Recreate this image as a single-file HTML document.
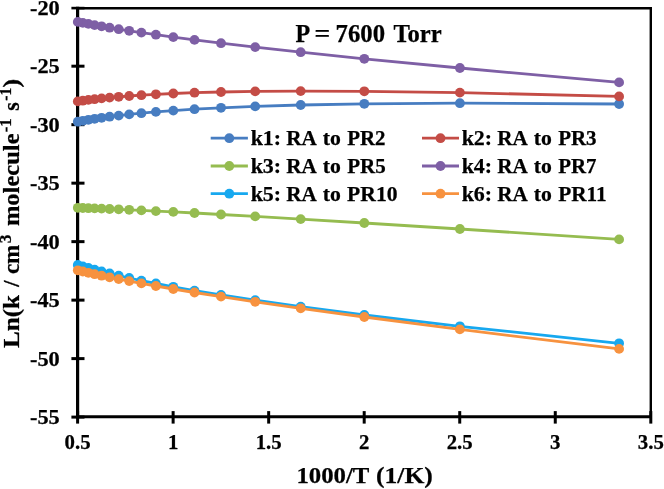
<!DOCTYPE html>
<html><head><meta charset="utf-8"><title>chart</title>
<style>html,body{margin:0;padding:0;background:#fff;}svg{display:block;will-change:transform;}</style></head>
<body>
<svg width="664" height="489" viewBox="0 0 664 489">
<rect width="664" height="489" fill="#fff"/>
<g stroke="#000" fill="none">
<line x1="77.6" y1="6.7" x2="77.6" y2="418.6" stroke-width="3.2"/>
<line x1="76.1" y1="416.8" x2="652.0" y2="416.8" stroke-width="3"/>
<line x1="77.6" y1="8.2" x2="652.0" y2="8.2" stroke-width="2.5"/>
<line x1="650.8" y1="7.7" x2="650.8" y2="417.1" stroke-width="2.4"/>
<line x1="71.39999999999999" y1="8.10" x2="84.5" y2="8.10" stroke-width="2.6"/>
<line x1="71.39999999999999" y1="66.19" x2="84.5" y2="66.19" stroke-width="3.0"/>
<line x1="71.39999999999999" y1="124.67" x2="84.5" y2="124.67" stroke-width="3.0"/>
<line x1="71.39999999999999" y1="183.16" x2="84.5" y2="183.16" stroke-width="3.0"/>
<line x1="71.39999999999999" y1="241.64" x2="84.5" y2="241.64" stroke-width="3.0"/>
<line x1="71.39999999999999" y1="300.13" x2="84.5" y2="300.13" stroke-width="3.0"/>
<line x1="71.39999999999999" y1="358.61" x2="84.5" y2="358.61" stroke-width="3.0"/>
<line x1="71.39999999999999" y1="417.10" x2="84.5" y2="417.10" stroke-width="3.0"/>
<line x1="77.60" y1="411.1" x2="77.60" y2="423.6" stroke-width="3"/>
<line x1="173.13" y1="411.1" x2="173.13" y2="423.6" stroke-width="3"/>
<line x1="268.67" y1="411.1" x2="268.67" y2="423.6" stroke-width="3"/>
<line x1="364.20" y1="411.1" x2="364.20" y2="423.6" stroke-width="3"/>
<line x1="459.73" y1="411.1" x2="459.73" y2="423.6" stroke-width="3"/>
<line x1="555.27" y1="411.1" x2="555.27" y2="423.6" stroke-width="3"/>
<line x1="650.80" y1="411.1" x2="650.80" y2="423.6" stroke-width="3"/>
</g>
<g fill="#477DC1" stroke="none"><polyline points="619.1,104.0 459.9,103.2 364.3,103.8 300.7,105.0 255.2,106.4 221.0,107.8 194.5,109.2 173.3,110.6 155.9,111.9 141.4,113.2 129.2,114.4 118.7,115.6 109.6,116.7 101.6,117.8 94.6,118.8 88.4,119.8 82.8,120.8 77.8,121.7" fill="none" stroke="#477DC1" stroke-width="2.8" stroke-linejoin="round" stroke-linecap="round"/>
<circle cx="619.1" cy="104.0" r="4.9"/><circle cx="459.9" cy="103.2" r="4.9"/><circle cx="364.3" cy="103.8" r="4.9"/><circle cx="300.7" cy="105.0" r="4.9"/><circle cx="255.2" cy="106.4" r="4.9"/><circle cx="221.0" cy="107.8" r="4.9"/><circle cx="194.5" cy="109.2" r="4.9"/><circle cx="173.3" cy="110.6" r="4.9"/><circle cx="155.9" cy="111.9" r="4.9"/><circle cx="141.4" cy="113.2" r="4.9"/><circle cx="129.2" cy="114.4" r="4.9"/><circle cx="118.7" cy="115.6" r="4.9"/><circle cx="109.6" cy="116.7" r="4.9"/><circle cx="101.6" cy="117.8" r="4.9"/><circle cx="94.6" cy="118.8" r="4.9"/><circle cx="88.4" cy="119.8" r="4.9"/><circle cx="82.8" cy="120.8" r="4.9"/><circle cx="77.8" cy="121.7" r="4.9"/></g>
<g fill="#C44C46" stroke="none"><polyline points="619.1,96.4 459.9,92.6 364.3,91.3 300.7,91.1 255.2,91.4 221.0,92.0 194.5,92.7 173.3,93.5 155.9,94.3 141.4,95.2 129.2,96.0 118.7,96.8 109.6,97.6 101.6,98.4 94.6,99.2 88.4,99.9 82.8,100.7 77.8,101.4" fill="none" stroke="#C44C46" stroke-width="2.8" stroke-linejoin="round" stroke-linecap="round"/>
<circle cx="619.1" cy="96.4" r="4.9"/><circle cx="459.9" cy="92.6" r="4.9"/><circle cx="364.3" cy="91.3" r="4.9"/><circle cx="300.7" cy="91.1" r="4.9"/><circle cx="255.2" cy="91.4" r="4.9"/><circle cx="221.0" cy="92.0" r="4.9"/><circle cx="194.5" cy="92.7" r="4.9"/><circle cx="173.3" cy="93.5" r="4.9"/><circle cx="155.9" cy="94.3" r="4.9"/><circle cx="141.4" cy="95.2" r="4.9"/><circle cx="129.2" cy="96.0" r="4.9"/><circle cx="118.7" cy="96.8" r="4.9"/><circle cx="109.6" cy="97.6" r="4.9"/><circle cx="101.6" cy="98.4" r="4.9"/><circle cx="94.6" cy="99.2" r="4.9"/><circle cx="88.4" cy="99.9" r="4.9"/><circle cx="82.8" cy="100.7" r="4.9"/><circle cx="77.8" cy="101.4" r="4.9"/></g>
<g fill="#95BC50" stroke="none"><polyline points="619.1,239.4 459.9,229.0 364.3,223.0 300.7,219.1 255.2,216.4 221.0,214.5 194.5,213.0 173.3,211.9 155.9,211.1 141.4,210.4 129.2,209.8 118.7,209.3 109.6,209.0 101.6,208.6 94.6,208.4 88.4,208.2 82.8,208.0 77.8,207.8" fill="none" stroke="#95BC50" stroke-width="2.8" stroke-linejoin="round" stroke-linecap="round"/>
<circle cx="619.1" cy="239.4" r="4.9"/><circle cx="459.9" cy="229.0" r="4.9"/><circle cx="364.3" cy="223.0" r="4.9"/><circle cx="300.7" cy="219.1" r="4.9"/><circle cx="255.2" cy="216.4" r="4.9"/><circle cx="221.0" cy="214.5" r="4.9"/><circle cx="194.5" cy="213.0" r="4.9"/><circle cx="173.3" cy="211.9" r="4.9"/><circle cx="155.9" cy="211.1" r="4.9"/><circle cx="141.4" cy="210.4" r="4.9"/><circle cx="129.2" cy="209.8" r="4.9"/><circle cx="118.7" cy="209.3" r="4.9"/><circle cx="109.6" cy="209.0" r="4.9"/><circle cx="101.6" cy="208.6" r="4.9"/><circle cx="94.6" cy="208.4" r="4.9"/><circle cx="88.4" cy="208.2" r="4.9"/><circle cx="82.8" cy="208.0" r="4.9"/><circle cx="77.8" cy="207.8" r="4.9"/></g>
<g fill="#7E5FA5" stroke="none"><polyline points="619.1,82.4 459.9,68.0 364.3,58.8 300.7,52.2 255.2,47.1 221.0,43.2 194.5,39.9 173.3,37.1 155.9,34.7 141.4,32.6 129.2,30.8 118.7,29.2 109.6,27.7 101.6,26.3 94.6,25.1 88.4,23.9 82.8,22.9 77.8,21.9" fill="none" stroke="#7E5FA5" stroke-width="2.8" stroke-linejoin="round" stroke-linecap="round"/>
<circle cx="619.1" cy="82.4" r="4.9"/><circle cx="459.9" cy="68.0" r="4.9"/><circle cx="364.3" cy="58.8" r="4.9"/><circle cx="300.7" cy="52.2" r="4.9"/><circle cx="255.2" cy="47.1" r="4.9"/><circle cx="221.0" cy="43.2" r="4.9"/><circle cx="194.5" cy="39.9" r="4.9"/><circle cx="173.3" cy="37.1" r="4.9"/><circle cx="155.9" cy="34.7" r="4.9"/><circle cx="141.4" cy="32.6" r="4.9"/><circle cx="129.2" cy="30.8" r="4.9"/><circle cx="118.7" cy="29.2" r="4.9"/><circle cx="109.6" cy="27.7" r="4.9"/><circle cx="101.6" cy="26.3" r="4.9"/><circle cx="94.6" cy="25.1" r="4.9"/><circle cx="88.4" cy="23.9" r="4.9"/><circle cx="82.8" cy="22.9" r="4.9"/><circle cx="77.8" cy="21.9" r="4.9"/></g>
<g fill="#17A8EF" stroke="none"><polyline points="619.1,343.3 459.9,326.3 364.3,315.0 300.7,306.7 255.2,300.2 221.0,295.0 194.5,290.6 173.3,286.8 155.9,283.5 141.4,280.6 129.2,278.0 118.7,275.7 109.6,273.5 101.6,271.5 94.6,269.7 88.4,268.0 82.8,266.4 77.8,265.0" fill="none" stroke="#17A8EF" stroke-width="2.8" stroke-linejoin="round" stroke-linecap="round"/>
<circle cx="619.1" cy="343.3" r="4.9"/><circle cx="459.9" cy="326.3" r="4.9"/><circle cx="364.3" cy="315.0" r="4.9"/><circle cx="300.7" cy="306.7" r="4.9"/><circle cx="255.2" cy="300.2" r="4.9"/><circle cx="221.0" cy="295.0" r="4.9"/><circle cx="194.5" cy="290.6" r="4.9"/><circle cx="173.3" cy="286.8" r="4.9"/><circle cx="155.9" cy="283.5" r="4.9"/><circle cx="141.4" cy="280.6" r="4.9"/><circle cx="129.2" cy="278.0" r="4.9"/><circle cx="118.7" cy="275.7" r="4.9"/><circle cx="109.6" cy="273.5" r="4.9"/><circle cx="101.6" cy="271.5" r="4.9"/><circle cx="94.6" cy="269.7" r="4.9"/><circle cx="88.4" cy="268.0" r="4.9"/><circle cx="82.8" cy="266.4" r="4.9"/><circle cx="77.8" cy="265.0" r="4.9"/></g>
<g fill="#F7923F" stroke="none"><polyline points="619.1,348.9 459.9,329.4 364.3,317.0 300.7,308.3 255.2,301.8 221.0,296.6 194.5,292.5 173.3,289.0 155.9,286.0 141.4,283.4 129.2,281.1 118.7,279.1 109.6,277.3 101.6,275.7 94.6,274.2 88.4,272.8 82.8,271.5 77.8,270.3" fill="none" stroke="#F7923F" stroke-width="2.8" stroke-linejoin="round" stroke-linecap="round"/>
<circle cx="619.1" cy="348.9" r="4.9"/><circle cx="459.9" cy="329.4" r="4.9"/><circle cx="364.3" cy="317.0" r="4.9"/><circle cx="300.7" cy="308.3" r="4.9"/><circle cx="255.2" cy="301.8" r="4.9"/><circle cx="221.0" cy="296.6" r="4.9"/><circle cx="194.5" cy="292.5" r="4.9"/><circle cx="173.3" cy="289.0" r="4.9"/><circle cx="155.9" cy="286.0" r="4.9"/><circle cx="141.4" cy="283.4" r="4.9"/><circle cx="129.2" cy="281.1" r="4.9"/><circle cx="118.7" cy="279.1" r="4.9"/><circle cx="109.6" cy="277.3" r="4.9"/><circle cx="101.6" cy="275.7" r="4.9"/><circle cx="94.6" cy="274.2" r="4.9"/><circle cx="88.4" cy="272.8" r="4.9"/><circle cx="82.8" cy="271.5" r="4.9"/><circle cx="77.8" cy="270.3" r="4.9"/></g>
<g font-family="'Liberation Serif', serif" font-weight="bold" fill="#000" stroke="#000" stroke-width="0.25">
<text x="29.98" y="14.9" font-size="21.33" textLength="29.77" lengthAdjust="spacingAndGlyphs">-20</text>
<text x="29.98" y="73.4" font-size="21.33" textLength="29.73" lengthAdjust="spacingAndGlyphs">-25</text>
<text x="29.98" y="131.9" font-size="21.33" textLength="29.77" lengthAdjust="spacingAndGlyphs">-30</text>
<text x="29.98" y="190.4" font-size="21.33" textLength="29.73" lengthAdjust="spacingAndGlyphs">-35</text>
<text x="29.98" y="248.8" font-size="21.33" textLength="29.77" lengthAdjust="spacingAndGlyphs">-40</text>
<text x="29.98" y="307.3" font-size="21.33" textLength="29.73" lengthAdjust="spacingAndGlyphs">-45</text>
<text x="29.98" y="365.8" font-size="21.33" textLength="29.77" lengthAdjust="spacingAndGlyphs">-50</text>
<text x="29.98" y="424.3" font-size="21.33" textLength="29.73" lengthAdjust="spacingAndGlyphs">-55</text>
<text x="77.6" y="449.2" font-size="20.8" text-anchor="middle">0.5</text>
<text x="173.1" y="449.2" font-size="20.8" text-anchor="middle">1</text>
<text x="268.7" y="449.2" font-size="20.8" text-anchor="middle">1.5</text>
<text x="364.2" y="449.2" font-size="20.8" text-anchor="middle">2</text>
<text x="459.7" y="449.2" font-size="20.8" text-anchor="middle">2.5</text>
<text x="555.3" y="449.2" font-size="20.8" text-anchor="middle">3</text>
<text x="650.8" y="449.2" font-size="20.8" text-anchor="middle">3.5</text>
<text x="295.39" y="41.6" font-size="24.5" textLength="14.69" lengthAdjust="spacingAndGlyphs">P</text>
<text x="314.63" y="41.6" font-size="24.5" textLength="15.69" lengthAdjust="spacingAndGlyphs">=</text>
<text x="335.59" y="41.6" font-size="24.5" textLength="49.45" lengthAdjust="spacingAndGlyphs">7600</text>
<text x="393.43" y="41.6" font-size="24.5" textLength="48.27" lengthAdjust="spacingAndGlyphs">Torr</text>
<text x="296.42" y="482.5" font-size="24" textLength="72.96" lengthAdjust="spacingAndGlyphs">1000/T</text>
<text x="376.08" y="482.5" font-size="24" textLength="56.74" lengthAdjust="spacingAndGlyphs">(1/K)</text>
<g transform="translate(19.4,347.5) rotate(-90)">
<text x="-0.43" y="0" font-size="24.0" textLength="52.97" lengthAdjust="spacingAndGlyphs">Ln(k</text>
<text x="60.72" y="0" font-size="24.0" textLength="6.34" lengthAdjust="spacingAndGlyphs">/</text>
<text x="73.41" y="0" font-size="24.0" textLength="29.38" lengthAdjust="spacingAndGlyphs">cm</text>
<text x="104.25" y="-8.4" font-size="16.3" textLength="8.64" lengthAdjust="spacingAndGlyphs">3</text>
<text x="121.44" y="0" font-size="24.0" textLength="92.59" lengthAdjust="spacingAndGlyphs">molecule</text>
<text x="215.19" y="-8.4" font-size="16.3" textLength="13.98" lengthAdjust="spacingAndGlyphs">-1</text>
<text x="236.84" y="0" font-size="24.0" textLength="8.49" lengthAdjust="spacingAndGlyphs">s</text>
<text x="246.73" y="-8.4" font-size="16.3" textLength="12.98" lengthAdjust="spacingAndGlyphs">-1</text>
<text x="259.72" y="0" font-size="24.0" textLength="9.08" lengthAdjust="spacingAndGlyphs">)</text>
</g>
<line x1="210.7" y1="138.2" x2="247.9" y2="138.2" stroke="#477DC1" stroke-width="2.8"/>
<circle cx="229.3" cy="138.2" r="4.9" fill="#477DC1" stroke="none"/>
<text x="250.65" y="144.8" font-size="21" textLength="30.51" lengthAdjust="spacingAndGlyphs">k1:</text>
<text x="286.34" y="144.8" font-size="21" textLength="30.52" lengthAdjust="spacingAndGlyphs">RA</text>
<text x="322.85" y="144.8" font-size="21" textLength="18.08" lengthAdjust="spacingAndGlyphs">to</text>
<text x="347.14" y="144.8" font-size="21" textLength="38.36" lengthAdjust="spacingAndGlyphs">PR2</text>
<line x1="422.0" y1="138.2" x2="459.0" y2="138.2" stroke="#C44C46" stroke-width="2.8"/>
<circle cx="440.5" cy="138.2" r="4.9" fill="#C44C46" stroke="none"/>
<text x="461.65" y="144.8" font-size="21" textLength="30.51" lengthAdjust="spacingAndGlyphs">k2:</text>
<text x="497.34" y="144.8" font-size="21" textLength="30.52" lengthAdjust="spacingAndGlyphs">RA</text>
<text x="533.85" y="144.8" font-size="21" textLength="18.08" lengthAdjust="spacingAndGlyphs">to</text>
<text x="558.14" y="144.8" font-size="21" textLength="38.48" lengthAdjust="spacingAndGlyphs">PR3</text>
<line x1="210.7" y1="166.0" x2="247.9" y2="166.0" stroke="#95BC50" stroke-width="2.8"/>
<circle cx="229.3" cy="166.0" r="4.9" fill="#95BC50" stroke="none"/>
<text x="250.65" y="172.8" font-size="21" textLength="30.51" lengthAdjust="spacingAndGlyphs">k3:</text>
<text x="286.34" y="172.8" font-size="21" textLength="30.52" lengthAdjust="spacingAndGlyphs">RA</text>
<text x="322.85" y="172.8" font-size="21" textLength="18.08" lengthAdjust="spacingAndGlyphs">to</text>
<text x="347.14" y="172.8" font-size="21" textLength="38.53" lengthAdjust="spacingAndGlyphs">PR5</text>
<line x1="422.0" y1="166.0" x2="459.0" y2="166.0" stroke="#7E5FA5" stroke-width="2.8"/>
<circle cx="440.5" cy="166.0" r="4.9" fill="#7E5FA5" stroke="none"/>
<text x="461.65" y="172.8" font-size="21" textLength="30.51" lengthAdjust="spacingAndGlyphs">k4:</text>
<text x="497.34" y="172.8" font-size="21" textLength="30.52" lengthAdjust="spacingAndGlyphs">RA</text>
<text x="533.85" y="172.8" font-size="21" textLength="18.08" lengthAdjust="spacingAndGlyphs">to</text>
<text x="558.14" y="172.8" font-size="21" textLength="38.27" lengthAdjust="spacingAndGlyphs">PR7</text>
<line x1="210.7" y1="193.7" x2="247.9" y2="193.7" stroke="#17A8EF" stroke-width="2.8"/>
<circle cx="229.3" cy="193.7" r="4.9" fill="#17A8EF" stroke="none"/>
<text x="250.65" y="200.5" font-size="21" textLength="30.51" lengthAdjust="spacingAndGlyphs">k5:</text>
<text x="286.34" y="200.5" font-size="21" textLength="30.52" lengthAdjust="spacingAndGlyphs">RA</text>
<text x="322.85" y="200.5" font-size="21" textLength="18.08" lengthAdjust="spacingAndGlyphs">to</text>
<text x="347.13" y="200.5" font-size="21" textLength="50.39" lengthAdjust="spacingAndGlyphs">PR10</text>
<line x1="422.0" y1="193.7" x2="459.0" y2="193.7" stroke="#F7923F" stroke-width="2.8"/>
<circle cx="440.5" cy="193.7" r="4.9" fill="#F7923F" stroke="none"/>
<text x="461.65" y="200.5" font-size="21" textLength="30.51" lengthAdjust="spacingAndGlyphs">k6:</text>
<text x="497.34" y="200.5" font-size="21" textLength="30.52" lengthAdjust="spacingAndGlyphs">RA</text>
<text x="533.85" y="200.5" font-size="21" textLength="18.08" lengthAdjust="spacingAndGlyphs">to</text>
<text x="558.15" y="200.5" font-size="21" textLength="48.43" lengthAdjust="spacingAndGlyphs">PR11</text>
</g>
</svg>
</body></html>
